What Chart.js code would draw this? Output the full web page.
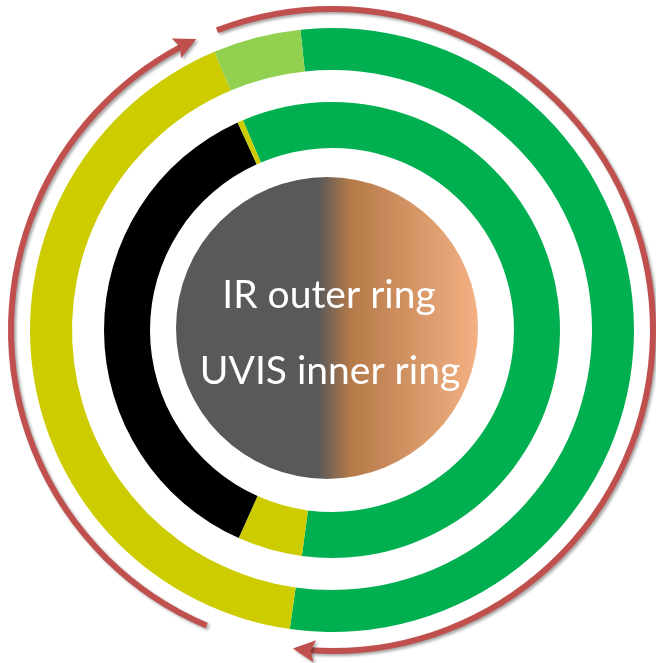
<!DOCTYPE html>
<html>
<head>
<meta charset="utf-8">
<script src="https://cdn.jsdelivr.net/npm/chart.js@4.4.0/dist/chart.umd.min.js"></script>
<style>
  body { margin: 0; background: #fff; }
  #wrap { width: 656px; height: 663px; }
</style>
</head>
<body>
<div id="wrap"><canvas id="rings"></canvas></div>
<script>
// outer ring = IR, inner ring = UVIS (shares of the circle, in percent)
const irLabels = ['IR green', 'IR yellow', 'IR light green'];
const irValues = [53.9, 41.4, 4.7];
const irColors = ['#00B050', '#CCCC00', '#92D050'];

const uvisLabels = ['UVIS green', 'UVIS yellow', 'UVIS black', 'UVIS yellow (2)'];
const uvisValues = [58.5, 4.6, 36.5, 0.4];
const uvisColors = ['#00B050', '#CCCC00', '#000000', '#CCCC00'];

const centerLines = ['IR outer ring', 'UVIS inner ring'];

// start angle of each ring, degrees clockwise from 12 o'clock
const irStart = -6;
const uvisStart = -23;

// draws the gradient disc with the labels and the two red arrows
const decorPlugin = {
  id: 'decor',
  beforeDatasetsDraw(chart) {
    const ctx = chart.ctx;
    const meta = chart.getDatasetMeta(0);
    const cx = meta.data[0].x, cy = meta.data[0].y;
    const r = 151;
    const x0 = cx - 5;

    const grad = ctx.createLinearGradient(x0 - r, 0, x0 + r, 0);
    grad.addColorStop(0, '#595959');
    grad.addColorStop(0.47, '#595959');
    grad.addColorStop(0.58, '#B67A49');
    grad.addColorStop(1, '#F4B183');
    ctx.save();
    ctx.beginPath();
    ctx.arc(x0, cy - 2, r, 0, Math.PI * 2);
    ctx.fillStyle = grad;
    ctx.fill();

    ctx.fillStyle = '#ffffff';
    ctx.font = '39px Lato';
    ctx.textAlign = 'center';
    ctx.textBaseline = 'alphabetic';
    ctx.fillText(centerLines[0], cx - 3, 308);
    ctx.fillText(centerLines[1], cx - 2, 384);
    ctx.restore();
  },
  afterDraw(chart) {
    const ctx = chart.ctx;
    const meta = chart.getDatasetMeta(0);
    const cx = meta.data[0].x, cy = meta.data[0].y;
    const R = 321;
    const rad = d => (d - 90) * Math.PI / 180;

    function arrow(fromDeg, toDeg) {
      ctx.save();
      ctx.shadowColor = 'rgba(0,0,0,0.35)';
      ctx.shadowBlur = 3;
      ctx.shadowOffsetX = 2;
      ctx.shadowOffsetY = 2;
      ctx.strokeStyle = '#C0504D';
      ctx.fillStyle = '#C0504D';
      ctx.lineWidth = 6;
      ctx.lineCap = 'butt';
      ctx.beginPath();
      ctx.arc(cx, cy, R, rad(fromDeg), rad(toDeg - 3), false);
      ctx.stroke();

      // arrow head at the end, pointing along the clockwise tangent
      const a = rad(toDeg);
      const tx = cx + R * Math.cos(a), ty = cy + R * Math.sin(a);
      const dir = a + Math.PI / 2;
      const ux = Math.cos(dir), uy = Math.sin(dir);
      const nx = -uy, ny = ux;
      const L = 22, W = 11, notch = 18;
      ctx.beginPath();
      ctx.moveTo(tx, ty);
      ctx.lineTo(tx - ux * L + nx * W, ty - uy * L + ny * W);
      ctx.lineTo(tx - ux * notch, ty - uy * notch);
      ctx.lineTo(tx - ux * L - nx * W, ty - uy * L - ny * W);
      ctx.closePath();
      ctx.fill();
      ctx.restore();
    }

    arrow(203, 335);
    arrow(339, 547);
  }
};

new Chart(document.getElementById('rings'), {
  type: 'doughnut',
  data: {
    datasets: [
      {
        label: 'IR',
        labels: irLabels,
        data: irValues,
        backgroundColor: irColors,
        borderWidth: 0,
        rotation: irStart,
        weight: 42
      },
      {
        // empty ring that keeps the white gap between IR and UVIS
        label: 'gap',
        data: [1],
        backgroundColor: 'rgba(0,0,0,0)',
        borderWidth: 0,
        weight: 32
      },
      {
        label: 'UVIS',
        labels: uvisLabels,
        data: uvisValues,
        backgroundColor: uvisColors,
        borderWidth: 0,
        rotation: uvisStart,
        weight: 46
      }
    ]
  },
  options: {
    responsive: true,
    maintainAspectRatio: false,
    animation: false,
    radius: 302,
    cutout: '60.26%',
    layout: { padding: { left: 8, top: 0, right: 0, bottom: 3 } },
    plugins: {
      legend: { display: false },
      tooltip: { enabled: false }
    }
  },
  plugins: [decorPlugin]
});
</script>
</body>
</html>
